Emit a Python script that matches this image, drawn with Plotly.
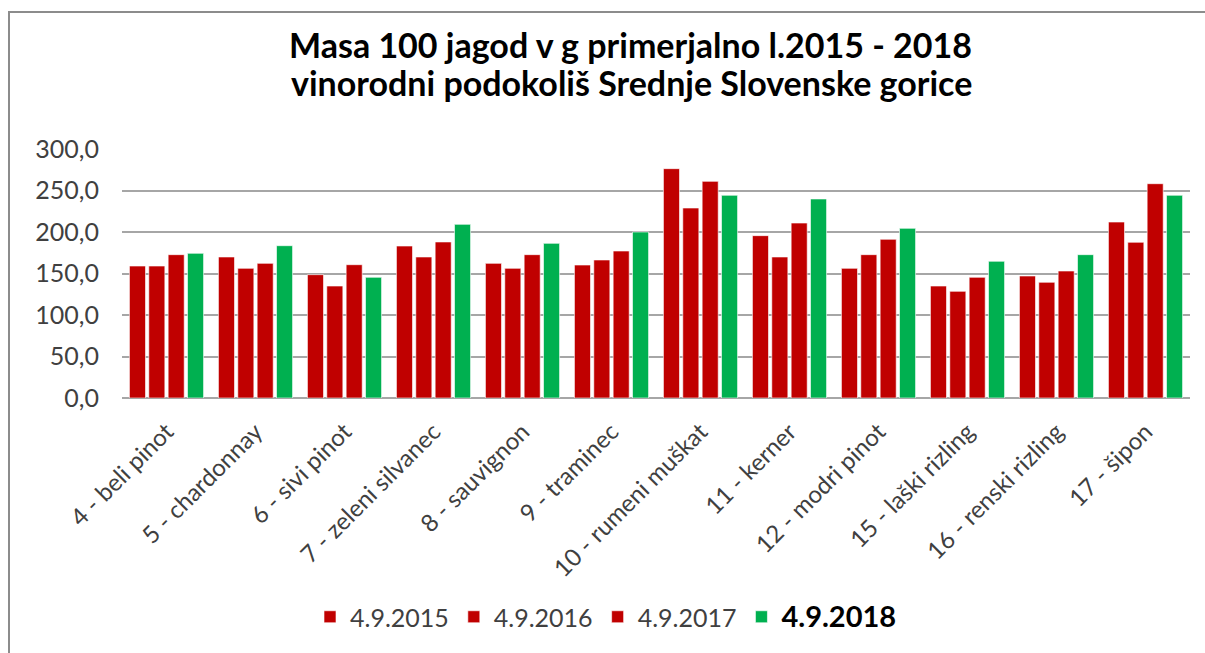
import plotly.graph_objects as go

categories = ["4 - beli pinot", "5 - chardonnay", "6 - sivi pinot", "7 - zeleni silvanec",
              "8 - sauvignon", "9 - traminec", "10 - rumeni muškat", "11 - kerner",
              "12 - modri pinot", "15 - laški rizling", "16 - renski rizling", "17 - šipon"]
s2015 = [159.0, 169.9, 148.6, 183.1, 162.2, 160.2, 276.3, 195.6, 156.2, 134.9, 147.0, 212.0]
s2016 = [159.0, 156.2, 134.9, 169.9, 156.2, 166.3, 228.9, 169.9, 172.7, 128.5, 139.4, 187.6]
s2017 = [172.7, 162.2, 160.6, 188.0, 172.7, 177.1, 261.0, 210.8, 191.2, 145.4, 153.0, 258.2]
s2018 = [174.3, 183.5, 145.4, 209.2, 186.3, 200.0, 244.2, 239.8, 204.4, 164.7, 172.7, 244.2]
series_names = ["4.9.2015", "4.9.2016", "4.9.2017",
                "<b><span style='font-size:29px;color:#000'>4.9.2018</span></b>"]
colors = ["#C00000", "#C00000", "#C00000", "#00B050"]
title_lines = ["Masa 100 jagod v g primerjalno l.2015 - 2018",
               "vinorodni podokoliš Srednje Slovenske gorice"]

fig = go.Figure()
for name, vals, col in zip(series_names, [s2015, s2016, s2017, s2018], colors):
    fig.add_trace(go.Bar(x=categories, y=vals, name=name,
                         marker=dict(color=col, line=dict(color="rgba(255,255,255,0.6)", width=1))))

L, R, T, B = 122, 15, 149, 255
W, H = 1205, 653
pw = W - L - R
ph = H - T - B

def px(x):
    return (x - L) / pw

def py(y):
    return (H - B - y) / ph

annotations = [
    dict(text="<b>%s</b>" % title_lines[0], xref="paper", yref="paper", x=px(630), y=py(45),
         xanchor="center", yanchor="middle", showarrow=False,
         font=dict(size=34, color="#000000", family="Lato, Open Sans, sans-serif")),
    dict(text="<b>%s</b>" % title_lines[1], xref="paper", yref="paper", x=px(631), y=py(82),
         xanchor="center", yanchor="middle", showarrow=False,
         font=dict(size=34, color="#000000", family="Lato, Open Sans, sans-serif")),
]

fig.update_layout(
    width=W, height=H,
    margin=dict(l=L, r=R, t=T, b=B, autoexpand=False),
    paper_bgcolor="white", plot_bgcolor="white",
    barmode="group", bargap=0.13, bargroupgap=0.17,
    separators=", ",
    font=dict(family="Lato, Open Sans, sans-serif", color="#404040", size=24),
    showlegend=True,
    legend=dict(orientation="h", x=px(606), xanchor="center", y=py(617), yanchor="middle",
                font=dict(size=25, color="#404040"), traceorder="normal",
                bgcolor="rgba(0,0,0,0)"),
    xaxis=dict(tickangle=-45, showgrid=False, showline=False, ticks="",
               tickfont=dict(size=24, color="#404040"), ticklabelstandoff=14),
    yaxis=dict(range=[0, 300], dtick=50, tickformat=".1f", showgrid=True,
               gridcolor="#A6A6A6", gridwidth=1.5, zeroline=True, zerolinecolor="#A6A6A6",
               zerolinewidth=1.5, ticks="", tickfont=dict(size=25, color="#404040"),
               ticklabelstandoff=22),
    annotations=annotations,
    shapes=[
        dict(type="line", xref="paper", yref="paper", x0=px(8), x1=px(1210), y0=py(12), y1=py(12),
             line=dict(color="#8C8C8C", width=2)),
        dict(type="line", xref="paper", yref="paper", x0=px(9), x1=px(9), y0=py(12), y1=py(660),
             line=dict(color="#8C8C8C", width=2)),
    ],
)

fig.write_html("out.html", config={"displayModeBar": False},
               post_script="document.body.style.margin='0';document.body.style.overflow='hidden';")
